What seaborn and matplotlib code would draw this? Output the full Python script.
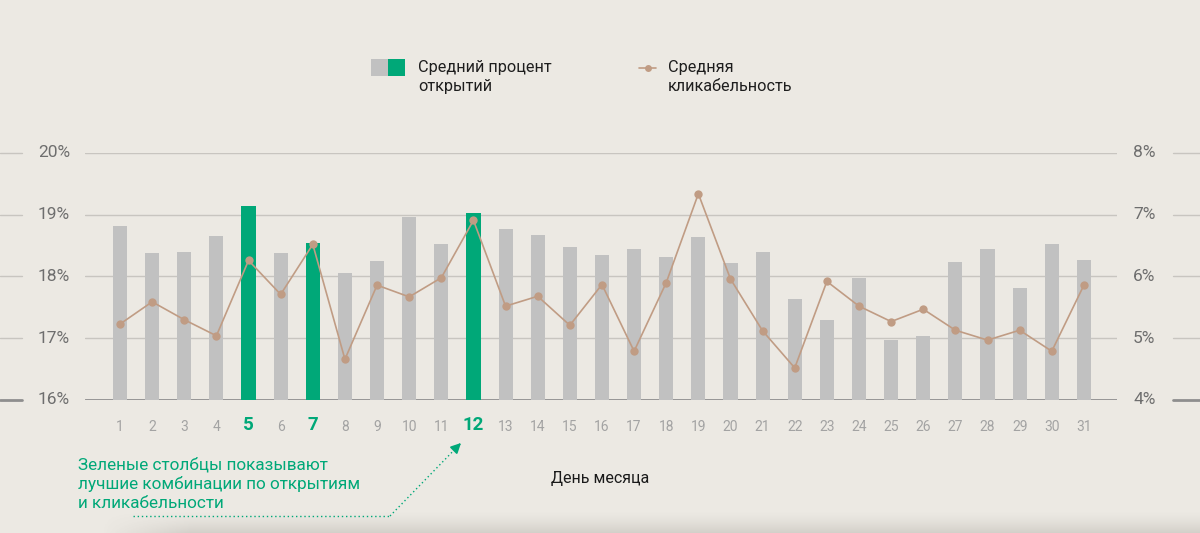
import numpy as np
import pandas as pd
import matplotlib
matplotlib.use("Agg")
import matplotlib.pyplot as plt
import matplotlib.transforms as mtransforms
from matplotlib.lines import Line2D
from matplotlib.patches import Rectangle
import seaborn as sns

# ---------------- data ----------------
days = list(range(1, 32))
open_rate = [18.81, 18.38, 18.39, 18.65, 19.14, 18.38, 18.54, 18.05, 18.25, 18.97,
             18.53, 19.03, 18.77, 18.68, 18.48, 18.35, 18.45, 18.32, 18.64, 18.22,
             18.40, 17.63, 17.30, 17.98, 16.97, 17.04, 18.24, 18.45, 17.82, 18.52,
             18.26]
click_rate = [5.23, 5.59, 5.30, 5.04, 6.26, 5.71, 6.52, 4.66, 5.86, 5.67,
              5.98, 6.91, 5.52, 5.68, 5.21, 5.87, 4.79, 5.90, 7.34, 5.96,
              5.12, 4.52, 5.92, 5.52, 5.27, 5.47, 5.13, 4.97, 5.13, 4.79,
              5.86]
best_days = [5, 7, 12]
left_ticks = [16, 17, 18, 19, 20]
right_ticks = [4, 5, 6, 7, 8]
legend_bar_label = "Средний процент\nоткрытий"
legend_line_label = "Средняя\nкликабельность"
xlabel = "День месяца"
note = "Зеленые столбцы показывают\nлучшие комбинации по открытиям\nи кликабельности"

# ---------------- style ----------------
BG = "#ECE9E3"
GRAY_BAR = "#C1C1C1"
GREEN = "#00A878"
TAN = "#C09C84"
GRID = "#C8C5C0"
BASE = "#8E8E8E"

sns.set_theme(style="white")
plt.rcParams["font.family"] = ["Roboto", "DejaVu Sans"]

W, H = 1200, 533
fig = plt.figure(figsize=(W / 100, H / 100), dpi=100, facecolor=BG)

ax_l, ax_r = 85, 1117
ax_top, ax_bot = 153, 400
ax = fig.add_axes([ax_l / W, 1 - ax_bot / H, (ax_r - ax_l) / W, (ax_bot - ax_top) / H])
ax.set_facecolor("none")

df = pd.DataFrame({
    "day": [str(d) for d in days],
    "open": open_rate,
    "click": click_rate,
    "group": ["best" if d in best_days else "other" for d in days],
})

sns.barplot(data=df, x="day", y="open", hue="group",
            palette={"best": GREEN, "other": GRAY_BAR},
            dodge=False, width=0.44, legend=False, ax=ax,
            saturation=1, linewidth=0)

ax.set_ylim(16, 20)
ax.set_xlim(-1.09, 31.03)

# grid lines
for t in left_ticks:
    if t == 16:
        ax.axhline(t, color=BASE, lw=2, zorder=0.5)
    else:
        ax.axhline(t, color=GRID, lw=1, zorder=0.5)

ax2 = ax.twinx()
ax2.set_ylim(4, 8)
sns.lineplot(x=np.arange(len(days)), y=click_rate, ax=ax2, color=TAN,
             lw=1.2, marker="o", markersize=6, markeredgewidth=0, zorder=5)

for a in (ax, ax2):
    a.set_xticks([])
    a.set_yticks([])
    a.set_xlabel("")
    a.set_ylabel("")
    for s in a.spines.values():
        s.set_visible(False)

# stubs outside axes and percent labels
bl = mtransforms.blended_transform_factory(fig.transFigure, ax.transData)
br = mtransforms.blended_transform_factory(fig.transFigure, ax2.transData)
for t in left_ticks:
    c = BASE if t == 16 else GRID
    lw = 2 if t == 16 else 1
    ax.add_line(Line2D([0, 22 / W], [t, t], transform=bl, color=c, lw=lw, clip_on=False))
    ax.text(70 / W, t, f"{t}%", transform=bl, ha="right", va="center",
            fontsize=12.5, color="#6E6E6E")
for t in right_ticks:
    c = BASE if t == 4 else GRID
    lw = 2 if t == 4 else 1
    ax2.add_line(Line2D([1173 / W, 1], [t, t], transform=br, color=c, lw=lw, clip_on=False))
    ax2.text(1133 / W, t, f"{t}%", transform=br, ha="left", va="center",
             fontsize=12.5, color="#6E6E6E")

# day labels
bx = mtransforms.blended_transform_factory(ax.transData, fig.transFigure)
for i, d in enumerate(days):
    if d in best_days:
        ax.text(i, 1 - 425 / H, str(d), transform=bx, ha="center", va="center",
                fontsize=13.5, fontweight="bold", color=GREEN)
    else:
        ax.text(i, 1 - 427 / H, str(d), transform=bx, ha="center", va="center",
                fontsize=10, color="#A3A3A3")

fig.text(600 / W, 1 - 478 / H, xlabel, ha="center", va="center", fontsize=11.5, color="#1A1A1A")

# legend
fig.patches.append(Rectangle((371 / W, 1 - 76 / H), 17 / W, 17 / H, transform=fig.transFigure,
                             facecolor=GRAY_BAR, edgecolor="none"))
fig.patches.append(Rectangle((388 / W, 1 - 76 / H), 17 / W, 17 / H, transform=fig.transFigure,
                             facecolor=GREEN, edgecolor="none"))
fig.text(418 / W, 1 - 77 / H, legend_bar_label, ha="left", va="center", fontsize=11.7,
         color="#1E1E1E", linespacing=1.3)
fig.add_artist(Line2D([639 / W, 656 / W], [1 - 68 / H, 1 - 68 / H], transform=fig.transFigure,
                      color=TAN, lw=1.2))
fig.add_artist(Line2D([647.5 / W], [1 - 68 / H], transform=fig.transFigure, color=TAN,
                      marker="o", markersize=5, markeredgewidth=0))
fig.text(668 / W, 1 - 77 / H, legend_line_label, ha="left", va="center", fontsize=11.7,
         color="#1E1E1E", linespacing=1.3)

# annotation
fig.text(78 / W, 1 - 484 / H, note, ha="left", va="center", fontsize=12.3,
         color=GREEN, linespacing=1.3)
fig.add_artist(Line2D([133 / W, 390 / W], [1 - 516 / H, 1 - 516 / H], transform=fig.transFigure,
                      color=GREEN, lw=1, linestyle=(0, (1, 2))))
fig.add_artist(Line2D([390 / W, 460 / W], [1 - 516 / H, 1 - 444 / H], transform=fig.transFigure,
                      color=GREEN, lw=1, linestyle=(0, (1, 2))))
ax.annotate("", xy=(463 / W, 1 - 441 / H), xytext=(455 / W, 1 - 449 / H),
            xycoords="figure fraction", textcoords="figure fraction",
            arrowprops=dict(arrowstyle="-|>,head_length=0.5,head_width=0.25",
                            color=GREEN, lw=1.2))

# bottom shadow (darker toward bottom edge)
sh = fig.add_axes([0, 0, 1, 24 / H], zorder=-1)
ny, nx = 40, 300
yy = np.linspace(0, 1, ny)[:, None]          # 0 at top row, 1 at bottom row
xx = np.linspace(0, 1, nx)[None, :]
alpha = (yy ** 1.6) * np.clip((xx * W - 100) / 90, 0, 1) * 0.17
img = np.zeros((ny, nx, 4))
img[..., 0] = 0.35
img[..., 1] = 0.33
img[..., 2] = 0.30
img[..., 3] = alpha
sh.imshow(img, aspect="auto", extent=[0, 1, 0, 1], origin="upper")
sh.axis("off")

fig.savefig("out.png", dpi=100, facecolor=BG)
